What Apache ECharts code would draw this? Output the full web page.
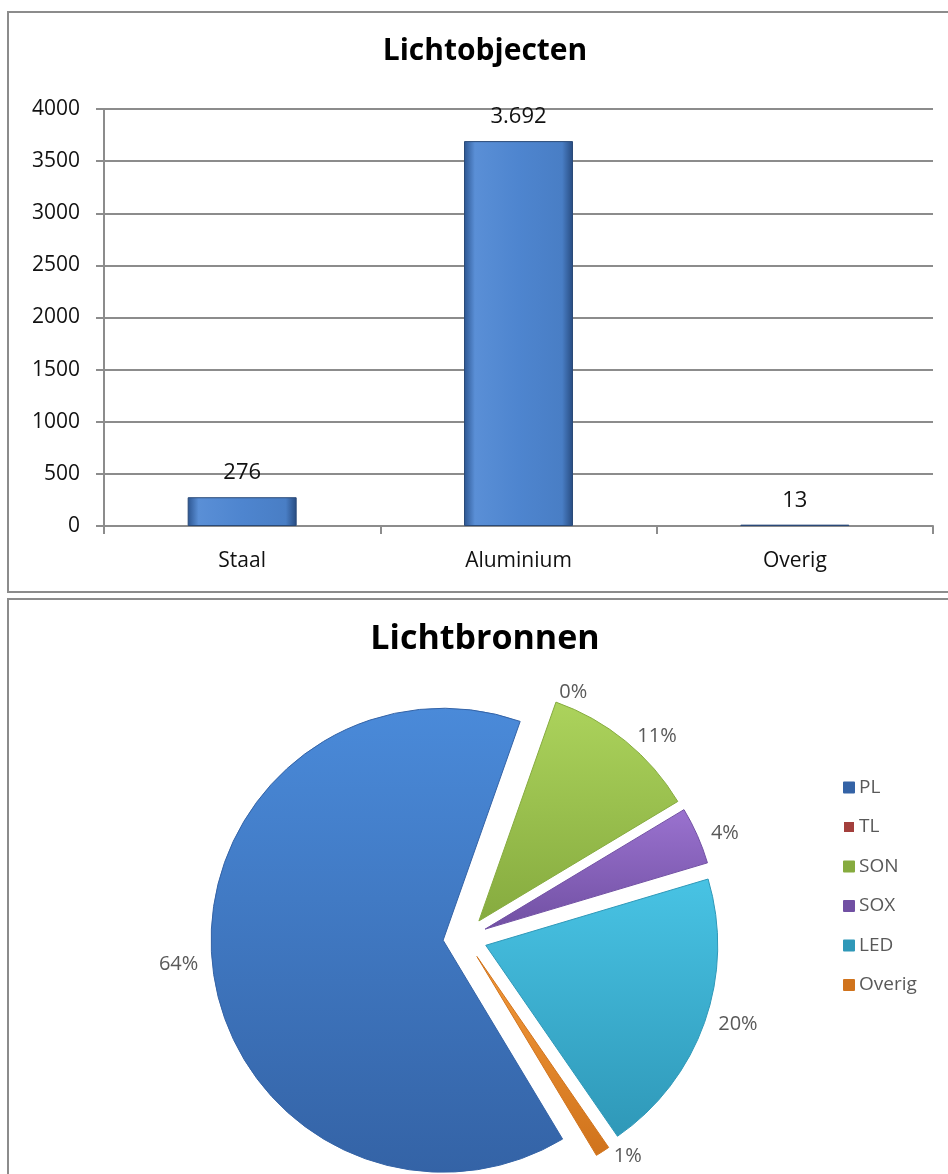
<!DOCTYPE html>
<html>
<head>
<meta charset="utf-8">
<script src="https://cdn.jsdelivr.net/npm/echarts@6/dist/echarts.min.js"></script>
<style>
    html, body { margin: 0; padding: 0; background: #fff; overflow: hidden; }
    body { width: 948px; height: 1174px; position: relative; }
    .frame { position: absolute; border: 2px solid #8c8c8c; box-sizing: border-box; }
    .chart { position: absolute; left: 0; width: 948px; }
</style>
</head>
<body>
<div class="frame" style="left:7px; top:11px; width:1000px; height:582px;"></div>
<div class="frame" style="left:7px; top:598px; width:1000px; height:620px;"></div>
<div class="chart" id="objecten" style="top:0; height:596px;"></div>
<div class="chart" id="bronnen" style="top:596px; height:578px;"></div>
<script>
// Lichtobjecten (bar)
var barCategories = ['Staal', 'Aluminium', 'Overig'];
var barValues = [276, 3692, 13];

// Lichtbronnen (pie), in percent
var pieNames = ['PL', 'TL', 'SON', 'SOX', 'LED', 'Overig'];
var pieValues = [64, 0, 11, 4, 20, 1];
var pieLight = ['#4a8ad9', '#d05a57', '#acd35c', '#9a72cf', '#48c3e4', '#f49a3a'];
var pieDark = ['#3463a6', '#a33f3c', '#86ab3f', '#7150a3', '#2f98b8', '#d0731c'];

var fontName = '"Open Sans", Lato, sans-serif';
var chart1, chart2;

function dutchNumber(v) {
    // 3692 -> 3.692
    return String(v).replace(/\B(?=(\d{3})+(?!\d))/g, '.');
}

function configureChart1() {
    chart1 = echarts.init(document.getElementById('objecten'));

    var chart1Options = {
        animation: false,
        title: {
            text: 'Lichtobjecten',
            left: 485,
            top: 36,
            padding: 0,
            textAlign: 'center',
            textStyle: { fontFamily: fontName, fontSize: 30, fontWeight: 'bold', color: '#000' }
        },
        grid: {
            left: 104,
            top: 109,
            width: 829,
            height: 417,
            outerBoundsMode: 'none'
        },
        xAxis: {
            type: 'category',
            data: barCategories,
            axisLine: { lineStyle: { color: '#8c8c8c', width: 2 } },
            axisTick: { show: true, length: 8, lineStyle: { color: '#8c8c8c', width: 2 } },
            axisLabel: { margin: 25, fontFamily: fontName, fontSize: 21, color: '#111' }
        },
        yAxis: {
            type: 'value',
            min: 0,
            max: 4000,
            interval: 500,
            axisLine: { show: true, lineStyle: { color: '#8c8c8c', width: 2 } },
            axisTick: { show: true, length: 8, lineStyle: { color: '#8c8c8c', width: 2 } },
            splitLine: { lineStyle: { color: '#8c8c8c', width: 2 } },
            axisLabel: {
                margin: 24, fontFamily: fontName, fontSize: 21, color: '#111',
                formatter: function (v) { return String(v); }
            }
        },
        series: [{
            name: 'Lichtobjecten',
            type: 'bar',
            data: barValues,
            barWidth: 109,
            itemStyle: {
                color: new echarts.graphic.LinearGradient(0, 0, 1, 0, [
                    { offset: 0, color: '#2c5590' },
                    { offset: 0.1, color: '#5a8fd6' },
                    { offset: 0.5, color: '#4e85cf' },
                    { offset: 0.9, color: '#497ec5' },
                    { offset: 1, color: '#274b80' }
                ]),
                borderColor: '#2a4a78',
                borderWidth: 1
            },
            label: {
                show: true,
                position: 'top',
                distance: 13,
                fontFamily: fontName,
                fontSize: 22,
                color: '#111',
                formatter: function (p) { return dutchNumber(p.value); }
            }
        }]
    };

    chart1.setOption(chart1Options);
}

function configureChart2() {
    chart2 = echarts.init(document.getElementById('bronnen'));

    var pieData = [];
    for (var i = 0; i < pieNames.length; i++) {
        pieData.push({
            name: pieNames[i],
            value: pieValues[i],
            selected: true,
            itemStyle: {
                color: new echarts.graphic.LinearGradient(0, 0, 0, 1, [
                    { offset: 0, color: pieLight[i] },
                    { offset: 1, color: pieDark[i] }
                ]),
                borderColor: pieDark[i],
                borderWidth: pieValues[i] > 0 ? 1 : 0
            }
        });
    }

    var chart2Options = {
        animation: false,
        title: {
            text: 'Lichtbronnen',
            left: 485,
            top: 26,
            padding: 0,
            textAlign: 'center',
            textStyle: { fontFamily: fontName, fontSize: 34, fontWeight: 'bold', color: '#000' }
        },
        legend: {
            orient: 'vertical',
            left: 838,
            top: 177,
            icon: 'rect',
            itemWidth: 10,
            itemHeight: 10,
            itemGap: 20.5,
            selectedMode: false,
            textStyle: { fontFamily: fontName, fontSize: 19, color: '#595959' },
            data: pieNames.map(function (n, i) {
                return { name: n, itemStyle: { color: pieDark[i] } };
            })
        },
        series: [{
            name: 'Lichtbronnen',
            type: 'pie',
            center: [465, 342],
            radius: 232,
            startAngle: 301,
            clockwise: true,
            selectedMode: 'multiple',
            selectedOffset: 22,
            avoidLabelOverlap: false,
            emphasis: { disabled: true },
            label: {
                show: true,
                position: 'outside',
                fontFamily: fontName,
                fontSize: 20,
                color: '#595959',
                formatter: function (p) { return Math.round(p.percent) + '%'; }
            },
            labelLine: { show: false, length: 6, length2: 3 },
            data: pieData
        }]
    };

    chart2.setOption(chart2Options);
}

configureChart1();
configureChart2();
</script>
</body>
</html>
